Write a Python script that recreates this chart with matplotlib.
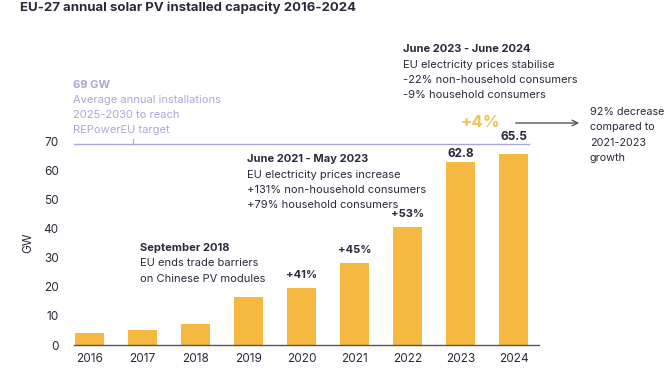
import numpy as np
import matplotlib.pyplot as plt

plt.rcParams['font.family'] = ['Inter', 'DejaVu Sans']

# data
years = ['2016', '2017', '2018', '2019', '2020', '2021', '2022', '2023', '2024']
capacity = [4.2, 5.3, 7.3, 16.4, 19.5, 28.2, 40.4, 62.8, 65.5]
growth_labels = {4: '+41%', 5: '+45%', 6: '+53%'}
value_labels = {7: '62.8', 8: '65.5'}
target = 69
yticks = [0, 10, 20, 30, 40, 50, 60, 70]

bar_col = '#F5B841'
dark = '#2A2A3C'
purple = '#ABA6D8'
W, H = 672, 372

def fx(px):
    return px / W

def fy(py):
    return 1 - py / H

fig = plt.figure(figsize=(6.72, 3.72), dpi=100)
ax = fig.add_axes([fx(74), fy(345), fx(539) - fx(74), fy(141) - fy(345)])

x = np.arange(len(years))
ax.bar(x, capacity, width=0.55, color=bar_col, zorder=2)
ax.set_xlim(-0.29, 8.48)
ax.set_ylim(0, 70)
ax.set_yticks(yticks)
ax.set_xticks(x)
ax.set_xticklabels(years)
ax.tick_params(axis='both', length=0, labelsize=8.5, colors=dark)
ax.tick_params(axis='x', pad=6)
ax.tick_params(axis='y', pad=11)
for s in ['top', 'right', 'left']:
    ax.spines[s].set_visible(False)
ax.spines['bottom'].set_color('#555560')
ax.spines['bottom'].set_linewidth(1.0)
ax.set_ylabel('GW', fontsize=8.5, color=dark, labelpad=7)

# target line 69 GW
ax.plot([-0.29, 8.3], [target, target], color=purple, lw=1.0, clip_on=False)
ax.plot([0.83, 0.83], [target, target + 1.8], color=purple, lw=0.8, clip_on=False)

# bar annotations
for i, t in growth_labels.items():
    ax.text(x[i], capacity[i] + 4.5, t, ha='center', va='center',
            fontsize=8, fontweight='bold', color=dark)
value_offset = {7: 2.8, 8: 5.8}
for i, t in value_labels.items():
    ax.text(x[i], capacity[i] + value_offset[i], t, ha='center', va='center',
            fontsize=8.5, fontweight='bold', color=dark, clip_on=False)

# title
fig.text(fx(20), fy(8), 'EU-27 annual solar PV installed capacity 2016-2024',
         fontsize=9.5, fontweight='bold', color=dark, va='center')

# REPowerEU text
fig.text(fx(73), fy(85), '69 GW', fontsize=8, fontweight='bold', color=purple, va='center')
for k, line in enumerate(['Average annual installations', '2025-2030 to reach',
                          'REPowerEU target']):
    fig.text(fx(73), fy(100 + 15 * k), line, fontsize=8, color=purple, va='center')

def block(px, py, head, lines):
    fig.text(fx(px), fy(py), head, fontsize=8, fontweight='bold', color=dark, va='center')
    for k, line in enumerate(lines):
        fig.text(fx(px), fy(py + 15.5 * (k + 1)), line, fontsize=8, color=dark, va='center')

block(403, 49, 'June 2023 - June 2024',
      ['EU electricity prices stabilise', '-22% non-household consumers',
       '-9% household consumers'])
block(247, 159, 'June 2021 - May 2023',
      ['EU electricity prices increase', '+131% non-household consumers',
       '+79% household consumers'])
block(140, 248, 'September 2018',
      ['EU ends trade barriers', 'on Chinese PV modules'])

# +4% and arrow
fig.text(fx(480), fy(123), '+4%', fontsize=12, fontweight='bold', color='#F2C255',
         ha='center', va='center')
fig.patches.append(plt.matplotlib.patches.FancyArrowPatch(
    (fx(513), fy(123)), (fx(582), fy(123)), transform=fig.transFigure,
    arrowstyle='->', mutation_scale=10, color='#555560', lw=1.0))
for k, line in enumerate(['92% decrease', 'compared to', '2021-2023', 'growth']):
    fig.text(fx(590), fy(112 + 15.5 * k), line, fontsize=7.8, color=dark, va='center')

fig.savefig('out.png', dpi=100, facecolor='white')
